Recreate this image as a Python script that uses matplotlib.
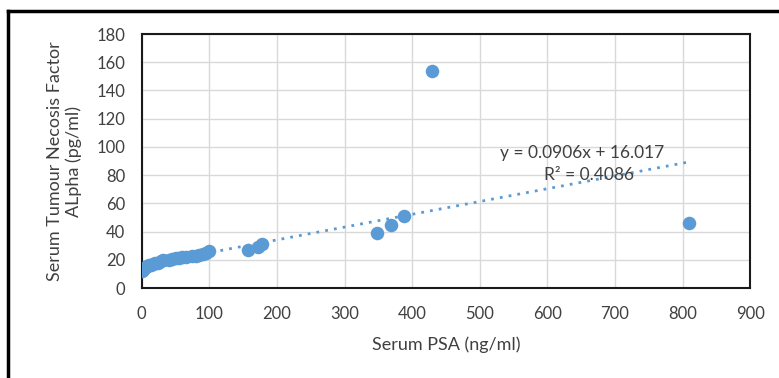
import matplotlib
matplotlib.use("Agg")
import matplotlib.pyplot as plt
import numpy as np

plt.rcParams['font.family'] = ['Lato', 'DejaVu Sans']

# Serum PSA (ng/ml) vs Serum TNF alpha (pg/ml)
psa = [0, 2, 4, 6, 8, 10, 13, 16, 20, 24, 28, 32, 40, 45, 50, 55, 60, 65,
       75, 80, 85, 90, 95, 100, 157, 172, 178, 348, 368, 388, 429, 810]
tnf = [12, 13, 14, 15, 15.5, 16, 16.5, 17, 17.5, 18, 19, 20, 20, 20.5, 21, 21.5,
       22, 22, 23, 23, 23.5, 24, 25, 26, 27, 29, 31, 39, 45, 51, 154, 46]

slope = 0.0906
intercept = 16.017
r2 = 0.4086

blue = '#5b9bd5'

fig = plt.figure(figsize=(7.79, 3.78), dpi=100)
ax = fig.add_axes([0.182, 0.238, 0.781, 0.672])

ax.scatter(psa, tnf, s=95, color=blue, zorder=3, linewidths=0)

# linear trendline
xt = np.array([min(psa), max(psa)])
ax.plot(xt, slope * xt + intercept, color=blue, linestyle=(0, (1, 2.2)),
        linewidth=2, zorder=2)

ax.text(651, 96, f"y = {slope}x + {intercept}", fontsize=12.5, ha='center',
        va='center', color='#404040')
ax.text(662, 80, f"R² = {r2}", fontsize=12.5, ha='center', va='center',
        color='#404040')

ax.set_xlim(0, 900)
ax.set_ylim(0, 180)
ax.set_xticks(np.arange(0, 901, 100))
ax.set_yticks(np.arange(0, 181, 20))
ax.grid(True, color='#d9d9d9', linewidth=1)
ax.set_axisbelow(True)
ax.tick_params(length=0, labelsize=12, colors='#404040')
ax.tick_params(axis='x', pad=13)
ax.tick_params(axis='y', pad=12)
for s in ax.spines.values():
    s.set_color('#1a1a1a')
    s.set_linewidth(1.5)

ax.set_xlabel("Serum PSA (ng/ml)", fontsize=13, color='#404040', labelpad=10)
ax.set_ylabel("Serum Tumour Necosis Factor\nALpha (pg/ml)", fontsize=13,
              color='#404040', labelpad=10)

# outer frame (left and top edges visible in the screenshot)
fig.add_artist(plt.Line2D([8 / 779, 8 / 779], [0, 1 - 11 / 378], color='black',
                          linewidth=2.5, transform=fig.transFigure))
fig.add_artist(plt.Line2D([8 / 779, 1], [1 - 11 / 378, 1 - 11 / 378], color='black',
                          linewidth=2.5, transform=fig.transFigure))

fig.savefig("out.png", dpi=100)
